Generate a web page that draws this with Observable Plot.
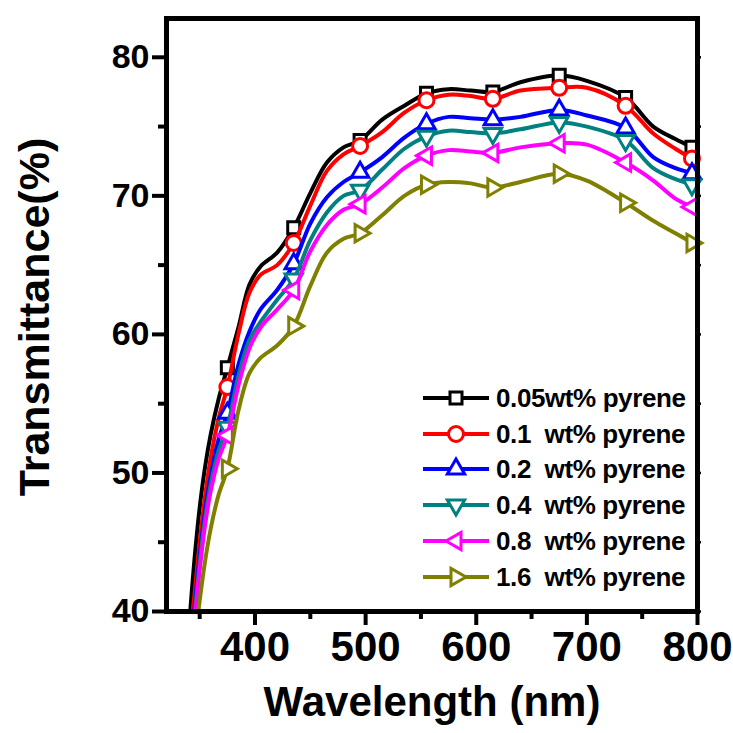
<!DOCTYPE html>
<html><head><meta charset="utf-8">
<script src="https://cdn.jsdelivr.net/npm/d3@7"></script>
<script src="https://cdn.jsdelivr.net/npm/@observablehq/plot@0.6"></script>
<style>
body{margin:0;background:#fff;}
#wrap{position:relative;width:733px;height:733px;font-family:"Liberation Sans",Arial,sans-serif;color:#000;}
#legend{position:absolute;left:421px;top:380px;}
.row{display:flex;align-items:center;height:35.8px;}
.row svg{display:block;}
.row span{font-weight:bold;font-size:26px;white-space:pre;margin-left:5px;letter-spacing:-0.4px;line-height:30px;}
</style></head><body><div id="wrap"><div id="legend"></div></div>
<script>
// ---- data ----
const wavelengths = [340, 345, 350, 355, 360, 367, 375, 385, 395, 405, 420, 435, 450, 465, 480, 495, 515, 535, 555, 575, 595, 615, 640, 675, 700, 735, 760, 780, 795, 800];
const t005 = [38.5, 43.5, 47.5, 50.5, 52.8, 55.3, 57.6, 60.5, 63.6, 64.9, 65.9, 67.7, 70.2, 72.4, 73.5, 74.0, 75.5, 76.5, 77.4, 77.7, 77.6, 77.5, 78.2, 78.7, 78.3, 77.1, 75.0, 74.1, 73.5, 73.2];
const t01  = [37.5, 41.0, 45.0, 48.4, 51.1, 53.9, 56.2, 60.0, 63.0, 64.3, 65.0, 66.6, 69.3, 71.8, 73.0, 73.6, 74.6, 76.0, 76.9, 77.3, 77.2, 77.0, 77.6, 77.8, 77.8, 76.5, 74.5, 73.4, 72.7, 72.5];
const t02  = [36.5, 40.0, 44.0, 47.3, 49.8, 52.4, 54.3, 57.8, 60.2, 61.8, 63.2, 65.1, 68.0, 69.9, 71.0, 71.7, 72.8, 74.2, 75.2, 75.7, 75.6, 75.5, 75.7, 76.2, 75.8, 74.9, 72.8, 72.0, 71.6, 71.3];
const t04  = [36.0, 39.5, 43.5, 46.8, 49.2, 51.6, 53.3, 57.0, 59.6, 60.9, 62.5, 64.0, 66.8, 68.8, 70.0, 70.4, 71.9, 73.4, 74.3, 74.7, 74.6, 74.5, 74.8, 75.3, 75.0, 74.0, 72.0, 71.2, 70.8, 70.5];
const t08  = [35.5, 39.0, 43.0, 46.3, 48.7, 51.0, 52.7, 56.3, 59.0, 60.5, 61.8, 63.2, 66.0, 67.9, 69.0, 69.4, 70.6, 72.0, 72.9, 73.3, 73.2, 73.1, 73.5, 73.8, 73.7, 72.4, 71.1, 69.8, 69.2, 69.0];
const t16  = [34.0, 37.5, 40.8, 43.7, 46.0, 48.4, 50.3, 54.5, 57.2, 58.3, 59.2, 60.6, 63.5, 65.9, 66.9, 67.3, 68.6, 70.0, 70.8, 71.0, 70.9, 70.6, 71.0, 71.6, 71.1, 69.5, 68.2, 67.3, 66.6, 66.2];
const seriesValues = [t005, t01, t02, t04, t08, t16];
const seriesNames = ["0.05wt% pyrene", "0.1  wt% pyrene", "0.2  wt% pyrene", "0.4  wt% pyrene", "0.8  wt% pyrene", "1.6  wt% pyrene"];
const seriesColors = ["#000000", "#ff0000", "#0000ff", "#008080", "#ff00ff", "#808000"];
const seriesSymbols = ["square", "circle", "triUp", "triDown", "triLeft", "triRight"];
const markerWavelengths = [375, 435, 495, 555, 615, 675, 735, 795];
const xTicks = [400, 500, 600, 700, 800];
const xMinor = [350, 450, 550, 650, 750];
const yTicks = [40, 50, 60, 70, 80];
const yMinor = [45, 55, 65, 75];
const xLabel = "Wavelength (nm)";
const yLabel = "Transmittance(%)";

// ---- symbols ----
function tri(angle, R) {
  return {draw(ctx) {
    for (let i = 0; i < 3; i++) {
      const a = angle + i * 2 * Math.PI / 3;
      const x = R * Math.cos(a), y = R * Math.sin(a);
      if (i) ctx.lineTo(x, y); else ctx.moveTo(x, y);
    }
    ctx.closePath();
  }};
}
const symbolDefs = {
  square: {draw(ctx) { ctx.rect(-6, -6, 12, 12); }},
  circle: {draw(ctx) { ctx.moveTo(7.5, 0); ctx.arc(0, 0, 7.5, 0, 2 * Math.PI); ctx.closePath(); }},
  triUp: tri(-Math.PI / 2, 10),
  triDown: tri(Math.PI / 2, 10),
  triLeft: tri(Math.PI, 10),
  triRight: tri(0, 10)
};

// ---- table ----
const rows = seriesNames.flatMap((name, i) => wavelengths.map((w, j) => ({series: name, i, w, t: seriesValues[i][j]})));

const marks = [];
seriesNames.forEach((name, i) => {
  const d = rows.filter(r => r.i === i);
  marks.push(Plot.line(d, {x: "w", y: "t", stroke: seriesColors[i], strokeWidth: 4, curve: "catmull-rom", clip: true}));
  marks.push(Plot.dot(d.filter(r => markerWavelengths.includes(r.w)), {x: "w", y: "t", symbol: symbolDefs[seriesSymbols[i]], r: 7, stroke: seriesColors[i], fill: "white", strokeWidth: 3}));
});

const tickFont = {fontWeight: "bold", fontFamily: "Liberation Sans, Arial, sans-serif"};
const chart = Plot.plot({
  width: 733, height: 733,
  marginLeft: 166, marginRight: 36, marginTop: 18, marginBottom: 122,
  style: {fontFamily: "Liberation Sans, Arial, sans-serif", color: "#000", background: "white"},
  x: {domain: [320, 800]},
  y: {domain: [40, 82.8]},
  marks: [
    ...marks,
    Plot.frame({stroke: "black", strokeWidth: 5}),
    Plot.axisX(xTicks, {anchor: "bottom", tickSize: 14, tickPadding: 6, strokeWidth: 4, fontSize: 42, ...tickFont, label: null}),
    Plot.axisX(xMinor, {anchor: "bottom", tickSize: 8, strokeWidth: 4, tickFormat: () => "", label: null}),
    Plot.axisX([...xTicks, ...xMinor], {anchor: "top", tickSize: 3, strokeWidth: 2.5, tickFormat: () => "", label: null}),
    Plot.axisY(yTicks, {anchor: "left", tickSize: 14, tickPadding: 3, strokeWidth: 4, fontSize: 34, ...tickFont, label: null}),
    Plot.axisY(yMinor, {anchor: "left", tickSize: 8, strokeWidth: 4, tickFormat: () => "", label: null}),
    Plot.axisY([...yTicks, ...yMinor], {anchor: "right", tickSize: 3, strokeWidth: 2.5, tickFormat: () => "", label: null}),
    Plot.text([xLabel], {text: d => d, frameAnchor: "bottom", dy: 91, fontSize: 42, fontWeight: "bold", lineAnchor: "middle", textAnchor: "middle"}),
    Plot.text([yLabel], {text: d => d, frameAnchor: "left", rotate: -90, dx: -131, dy: 2, fontSize: 43, fontWeight: "bold", lineAnchor: "middle", textAnchor: "middle"})
  ]
});
document.getElementById("wrap").prepend(chart);

// ---- legend ----
const legend = d3.select("#legend");
seriesNames.forEach((name, i) => {
  const row = legend.append("div").attr("class", "row");
  const svg = row.append("svg").attr("width", 70).attr("height", 30);
  svg.append("line").attr("x1", 2).attr("x2", 68).attr("y1", 15).attr("y2", 15)
    .attr("stroke", seriesColors[i]).attr("stroke-width", 4);
  const p = d3.path();
  symbolDefs[seriesSymbols[i]].draw(p);
  svg.append("path").attr("d", p.toString()).attr("transform", "translate(35,15)")
    .attr("fill", "white").attr("stroke", seriesColors[i]).attr("stroke-width", 3);
  row.append("span").text(name);
});
</script>
</body></html>
